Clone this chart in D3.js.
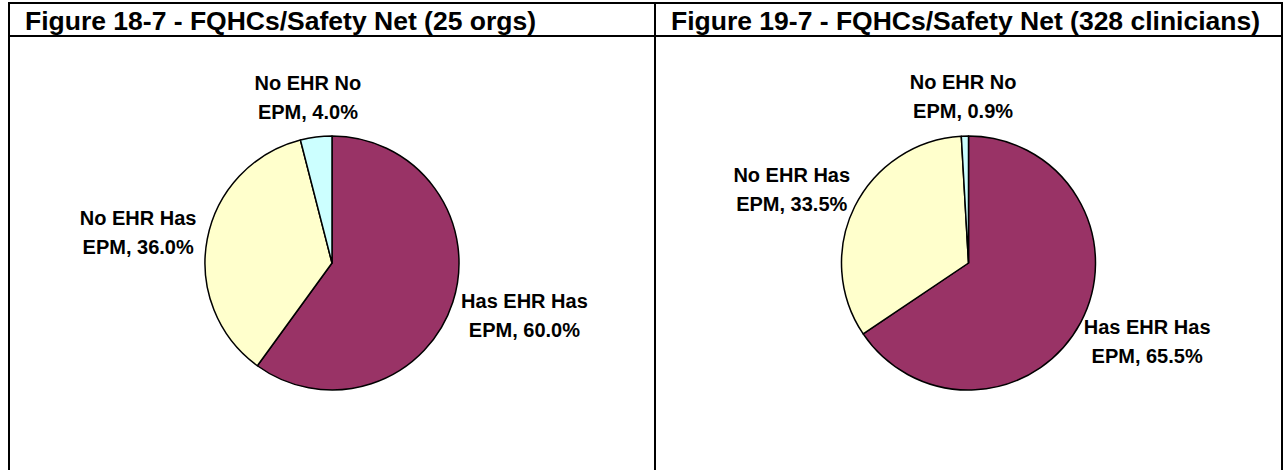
<!DOCTYPE html>
<html>
<head>
<meta charset="utf-8">
<script src="https://cdn.jsdelivr.net/npm/d3@7"></script>
<style>
  body { margin: 0; background: #fff; }
  text { font-family: "Liberation Sans", Arial, sans-serif; font-weight: bold; fill: #000; }
</style>
</head>
<body>
<div class="chart"></div>
<script>
var titles = ["Figure 18-7 - FQHCs/Safety Net (25 orgs)", "Figure 19-7 - FQHCs/Safety Net (328 clinicians)"];
var categories = ["Has EHR Has EPM", "No EHR Has EPM", "No EHR No EPM"];
var orgsValues = [60.0, 36.0, 4.0];
var cliniciansValues = [65.5, 33.5, 0.9];
var sliceColors = ["#993366", "#FFFFCC", "#CCFFFF"];

var width = 1285, height = 470;
var boxLeft = 9, boxRight = 1282, divider = 655, boxTop = 3, headerBottom = 36;
var radius = 127, pieY = 263;

var svg = d3.select(".chart").append("svg")
    .attr("width", width)
    .attr("height", height);

svg.append("rect").attr("width", width).attr("height", height).attr("fill", "#fff");

var panels = [
    { title: titles[0], values: orgsValues, x0: boxLeft, x1: divider },
    { title: titles[1], values: cliniciansValues, x0: divider, x1: boxRight }
];

var pie = d3.pie().sort(null).value(function (d) { return d; });
var arc = d3.arc().innerRadius(0).outerRadius(radius);

panels.forEach(function (p) {
    // title
    svg.append("text")
        .attr("x", p.x0 + 16)
        .attr("y", 30)
        .style("font-size", "26.5px")
        .text(p.title);

    var cx = (p.x0 + p.x1) / 2;
    var g = svg.append("g").attr("transform", "translate(" + cx + "," + pieY + ")");

    var arcs = pie(p.values);
    g.selectAll("path")
        .data(arcs)
        .enter().append("path")
        .attr("d", arc)
        .attr("fill", function (d, i) { return sliceColors[i]; })
        .attr("stroke", "#000")
        .attr("stroke-width", 1.5)
        .attr("stroke-linejoin", "round");

    // labels, outside the slice at its mid angle
    arcs.forEach(function (d, i) {
        var name = categories[i];
        var cut = name.lastIndexOf(" ");
        var line1 = name.slice(0, cut);
        var line2 = name.slice(cut + 1) + ", " + d.value.toFixed(1) + "%";
        var mid = (d.startAngle + d.endAngle) / 2;
        var dx = Math.sin(mid), dy = -Math.cos(mid);

        var lbl = g.append("text")
            .attr("text-anchor", "middle")
            .style("font-size", "20px");
        var t1 = lbl.append("tspan").text(line1);
        var t2 = lbl.append("tspan").text(line2);
        var halfW = Math.max(t1.node().getComputedTextLength(), t2.node().getComputedTextLength()) / 2;
        var halfH = 28;
        var ax = dx * (radius + 12), ay = dy * (radius + 12);
        var bx = ax + dx * halfW, by = ay + dy * halfH;
        t1.attr("x", bx).attr("y", by - 7);
        t2.attr("x", bx).attr("y", by + 22);
    });
});

// table borders
var lines = [
    [boxLeft, boxTop, boxRight, boxTop],
    [boxLeft, headerBottom, boxRight, headerBottom],
    [boxLeft, boxTop, boxLeft, height],
    [divider, boxTop, divider, height],
    [boxRight, boxTop, boxRight, height]
];
svg.selectAll(".border")
    .data(lines)
    .enter().append("line")
    .attr("class", "border")
    .attr("x1", function (d) { return d[0]; })
    .attr("y1", function (d) { return d[1]; })
    .attr("x2", function (d) { return d[2]; })
    .attr("y2", function (d) { return d[3]; })
    .attr("stroke", "#000")
    .attr("stroke-width", 2)
    .attr("stroke-linecap", "square");
</script>
</body>
</html>
